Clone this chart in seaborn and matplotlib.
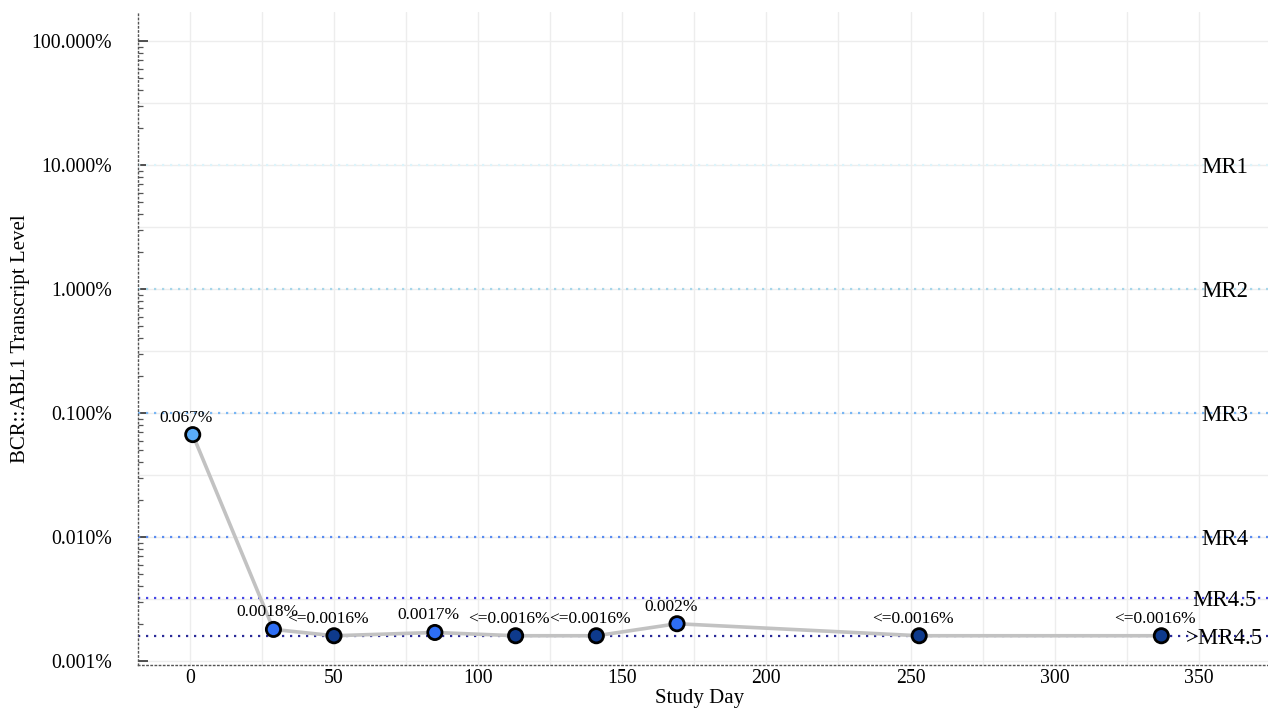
import matplotlib
matplotlib.use("Agg")
import matplotlib.pyplot as plt
import matplotlib.ticker as mticker
import numpy as np
import pandas as pd
import seaborn as sns

# Molecular monitoring results (BCR::ABL1 / ABL1, International Scale %)
study_day = [1, 29, 50, 85, 113, 141, 169, 253, 337]
transcript_pct = [0.067, 0.0018, 0.0016, 0.0017, 0.0016, 0.0016, 0.002, 0.0016, 0.0016]
qualifier = ["", "", "<=", "", "<=", "<=", "", "<=", "<="]
response_band = ["MR3", "MR4.5", ">MR4.5", "MR4.5", ">MR4.5", ">MR4.5", "MR4.5", ">MR4.5", ">MR4.5"]

# Molecular response thresholds
mr_names = ["MR1", "MR2", "MR3", "MR4", "MR4.5", ">MR4.5"]
mr_levels = [10.0, 1.0, 0.1, 0.01, 0.0032, 0.0016]
mr_colors = ["#dcf4fb", "#a6d6ea", "#78b6f4", "#5a8cf0", "#4646e6", "#2a2a98"]

band_palette = {"MR3": "#5aacf8", "MR4.5": "#2e6ef4", ">MR4.5": "#0e3a8c"}

y_ticks = [100, 10, 1, 0.1, 0.01, 0.001]
x_ticks = [0, 50, 100, 150, 200, 250, 300, 350]

df = pd.DataFrame({
    "day": study_day,
    "pct": transcript_pct,
    "band": response_band,
    "label": [f"{q}{v:g}%" for q, v in zip(qualifier, transcript_pct)],
})

sns.set_theme(style="white")
plt.rcParams["font.family"] = ["Liberation Serif", "DejaVu Serif"]
plt.rcParams["text.color"] = "black"
plt.rcParams["axes.labelcolor"] = "black"
plt.rcParams["xtick.color"] = "black"
plt.rcParams["ytick.color"] = "black"

fig = plt.figure(figsize=(12.68, 7.08), dpi=100)
ax = fig.add_axes([0.1088, 0.0607, 0.8912, 0.9223])
ax.set_yscale("log")
ax.set_xlim(-18, 374)
ax.set_ylim(10 ** -3.032, 10 ** 2.234)

# Background grid: every 25 days, every half decade
grid_c = "#ededed"
for gx in np.arange(0, 375, 25):
    ax.axvline(gx, color=grid_c, lw=1.0, zorder=0)
for k in range(-6, 5):
    ax.axhline(10 ** (k / 2), color=grid_c, lw=1.0, zorder=0)

# Response threshold lines and their names
for name, lvl, col in zip(mr_names, mr_levels, mr_colors):
    ax.axhline(lvl, color=col, lw=1.6, linestyle=(0, (1, 2.6)), zorder=1)
    ax.text(359, lvl, name, ha="center", va="center_baseline", fontsize=16.5,
            color="black", zorder=5)

sns.lineplot(data=df, x="day", y="pct", ax=ax, color="#c2c2c2", lw=2.6,
             zorder=2, legend=False)
sns.scatterplot(data=df, x="day", y="pct", hue="band", palette=band_palette,
                ax=ax, s=105, edgecolor="black", linewidth=2.0, zorder=3,
                legend=False)

for _, r in df.iterrows():
    ax.annotate(r["label"], (r["day"], r["pct"]), xytext=(-4.5, 6.5),
                textcoords="offset points", ha="center", va="bottom",
                fontsize=12.5, zorder=4)

ax.set_xticks(x_ticks)
ax.set_yticks(y_ticks)
ax.yaxis.set_major_formatter(mticker.FuncFormatter(lambda v, p: f"{v:.3f}%"))
ax.yaxis.set_minor_locator(mticker.LogLocator(base=10, subs=np.arange(2, 10)))
ax.yaxis.set_minor_formatter(mticker.NullFormatter())
ax.tick_params(axis="y", which="major", direction="in", length=7, width=1.2,
               color="#333333", labelsize=14.2, left=True, pad=18.5)
ax.tick_params(axis="y", which="minor", direction="in", length=3.5, width=0.9,
               color="#555555", left=True)
ax.tick_params(axis="x", which="both", length=0, labelsize=14.2, pad=3)

for side in ["top", "right"]:
    ax.spines[side].set_visible(False)
for side in ["left", "bottom"]:
    ax.spines[side].set_linestyle((0, (1, 2)))
    ax.spines[side].set_color("#555555")
    ax.spines[side].set_linewidth(1.0)

ax.set_xlabel("Study Day", fontsize=15)
ax.set_ylabel("BCR::ABL1 Transcript Level", fontsize=15)
ax.xaxis.set_label_coords(0.497, -0.052)
ax.xaxis.label.set_va("center")
ax.yaxis.set_label_coords(-0.104, 0.5)
ax.yaxis.label.set_va("center")

fig.savefig("out.png", dpi=100)
